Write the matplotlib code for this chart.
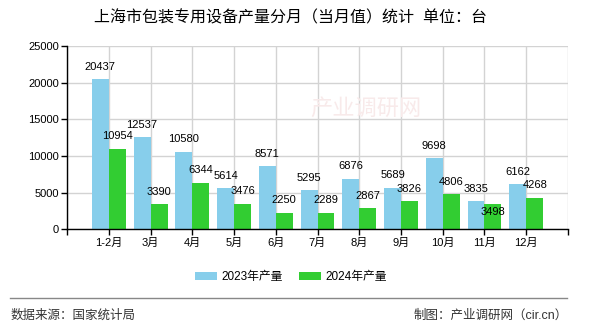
import matplotlib.pyplot as plt
import numpy as np

plt.rcParams['font.family'] = ['Liberation Sans', 'Noto Sans CJK SC', 'DejaVu Sans']

# 数据
months = ["1-2月", "3月", "4月", "5月", "6月", "7月", "8月", "9月", "10月", "11月", "12月"]
prod_2023 = [20437, 12537, 10580, 5614, 8571, 5295, 6876, 5689, 9698, 3835, 6162]
prod_2024 = [10954, 3390, 6344, 3476, 2250, 2289, 2867, 3826, 4806, 3498, 4268]
series_names = ["2023年产量", "2024年产量"]
yticks = [0, 5000, 10000, 15000, 20000, 25000]

# 标签避让：2024年11月的数值标签放到柱顶下方
label_dy_2024 = [9, 9, 9, 9, 9, 9, 9, 9, 9, -6, 9]

fig = plt.figure(figsize=(5.9, 3.3), dpi=100)
ax = fig.add_axes([0.1136, 0.3052, 0.8491, 0.5554])

x = np.arange(len(months))
w = 0.407
ax.bar(x - w, prod_2023, width=w, align='edge', color='#87CEEB', label=series_names[0], zorder=2)
ax.bar(x, prod_2024, width=w, align='edge', color='#32CD32', label=series_names[1], zorder=2)

for i, v in enumerate(prod_2023):
    ax.annotate(str(v), (x[i] - w / 2, v), xytext=(0, 9), textcoords='offset points',
                ha='center', va='center', fontsize=8, color='black', zorder=3)
for i, v in enumerate(prod_2024):
    ax.annotate(str(v), (x[i] + w / 2, v), xytext=(0, label_dy_2024[i]), textcoords='offset points',
                ha='center', va='center', fontsize=8, color='black', zorder=3)

ax.set_xlim(-1, len(months))
ax.set_ylim(0, 25000)
ax.set_xticks(np.arange(-1, len(months) + 1))
ax.set_xticklabels([""] + months + [""], fontsize=8)
ax.set_yticks(yticks)
ax.set_yticklabels([str(t) for t in yticks], fontsize=8)
ax.tick_params(axis='both', length=4, width=1, color='black', pad=2)
ax.grid(True, color='#d3d3d3', linewidth=1, zorder=0)
ax.set_axisbelow(True)
for s in ['top', 'right']:
    ax.spines[s].set_visible(False)
for s in ['left', 'bottom']:
    ax.spines[s].set_color('black')
    ax.spines[s].set_linewidth(1)

# 水印
fig.text(0.62, 0.67, "产业调研网", fontsize=16, color='#f8eaea', ha='center', va='center', zorder=0)

fig.text(291 / 590, 1 - 18 / 330, "上海市包装专用设备产量分月（当月值）统计  单位：台",
         fontsize=11.5, ha='center', va='center', color='black')

fig.legend(loc='center', bbox_to_anchor=(291 / 590, 1 - 277 / 330), ncol=2, frameon=False,
           fontsize=8.5, handlelength=1.85, handleheight=0.75, columnspacing=1.4, handletextpad=0.4)

line = plt.Line2D([10 / 590, 567 / 590], [1 - 298 / 330, 1 - 298 / 330], transform=fig.transFigure,
                  color='#888888', linewidth=1)
fig.add_artist(line)
fig.text(11 / 590, 1 - 316 / 330, "数据来源：国家统计局", fontsize=9, ha='left', va='center', color='#333333')
fig.text(568 / 590, 1 - 316 / 330, "制图：产业调研网（cir.cn）", fontsize=9, ha='right', va='center', color='#333333')

fig.savefig("out.png", dpi=100)
